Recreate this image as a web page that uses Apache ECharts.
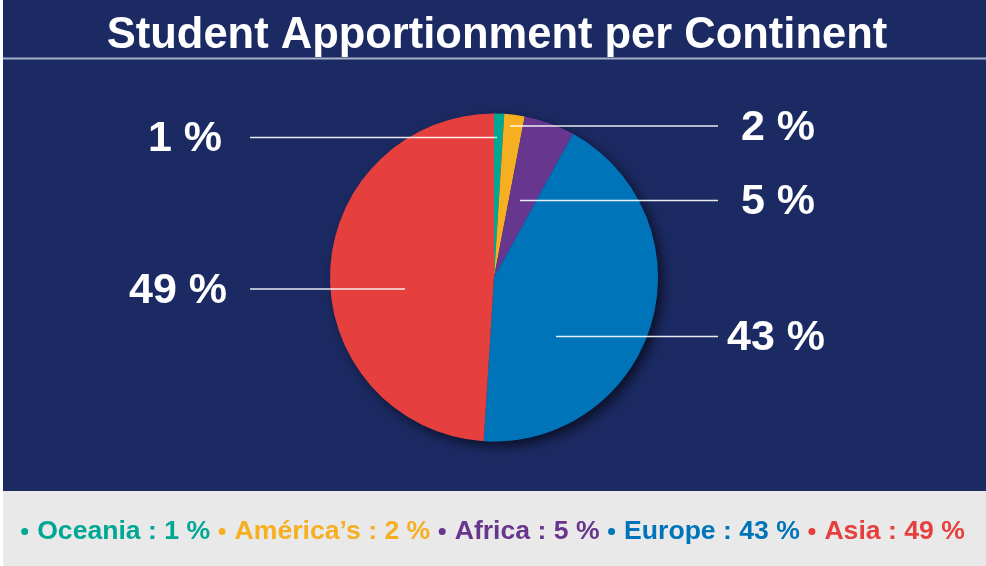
<!DOCTYPE html>
<html>
<head>
<meta charset="utf-8">
<script src="https://cdn.jsdelivr.net/npm/echarts@6/dist/echarts.min.js"></script>
<style>
  html, body { margin: 0; padding: 0; background: #ffffff; }
  #chart { width: 986px; height: 566px; }
</style>
</head>
<body>
<div id="chart"></div>
<script>
// Share of students by continent (percent)
const continents = ['Oceania', 'América’s', 'Africa', 'Europe', 'Asia'];
const shares = [1, 2, 5, 43, 49];

// Styling
const sliceColors = ['#00a794', '#f6af21', '#67368e', '#0074b9', '#e6403e'];
const navy = '#1c2a63';
const panelGrey = '#e9e9e9';
const FONT = '"Liberation Sans", Arial, Helvetica, sans-serif';

// Callout placement: label anchor and where each leader line starts inside its slice
const leftLineX = 250;
const rightLineX = 718;
const labelSpots = [
  { side: 'left',  textX: 222, y: 137.5, fromX: 497 },
  { side: 'right', textX: 741, y: 126,   fromX: 510 },
  { side: 'right', textX: 741, y: 200.5, fromX: 520 },
  { side: 'right', textX: 727, y: 336.5, fromX: 556 },
  { side: 'left',  textX: 227, y: 289,   fromX: 405 }
];
const labelLift = 2; // text sits a touch below its leader line

const pieCenter = [494, 277.5];
const pieRadius = 164;
const total = shares.reduce((a, b) => a + b, 0);

const sliceData = continents.map((name, i) => ({
  name: name,
  value: shares[i],
  itemStyle: { color: sliceColors[i] }
}));

const chart = echarts.init(document.getElementById('chart'), null, { renderer: 'canvas' });

chart.setOption({
  animation: false,
  backgroundColor: '#ffffff',
  graphic: [
    { type: 'rect', z: -10, silent: true,
      shape: { x: 3, y: 0, width: 983, height: 491 }, style: { fill: navy } },
    { type: 'rect', z: -10, silent: true,
      shape: { x: 3, y: 491, width: 983, height: 75 }, style: { fill: panelGrey } },
    { type: 'line', z: -9, silent: true,
      shape: { x1: 3, y1: 58.5, x2: 986, y2: 58.5 },
      style: { stroke: '#a9b1cc', lineWidth: 2 } }
  ],
  title: {
    text: 'Student Apportionment per Continent',
    left: 492,
    textAlign: 'center',
    top: 9,
    textStyle: {
      color: '#ffffff',
      fontFamily: FONT,
      fontWeight: 'bold',
      fontSize: 43.5,
      lineHeight: 44
    }
  },
  legend: {
    data: continents.map((name, i) => ({
      name: name,
      textStyle: { color: sliceColors[i] }
    })),
    left: 'center',
    top: 513,
    icon: 'circle',
    itemWidth: 7,
    itemHeight: 7,
    itemGap: 8.5,
    selectedMode: false,
    formatter: name => name + ' : ' + shares[continents.indexOf(name)] + ' %',
    textStyle: {
      fontFamily: FONT,
      fontWeight: 'bold',
      fontSize: 26.6,
      padding: [0, 0, 0, 4]
    }
  },
  series: [
    {
      // backdrop disc that carries the drop shadow under the whole pie
      type: 'pie',
      name: 'backdrop',
      silent: true,
      z: 1,
      center: pieCenter,
      radius: pieRadius,
      label: { show: false },
      labelLine: { show: false },
      itemStyle: {
        color: navy,
        shadowBlur: 12,
        shadowOffsetX: 5,
        shadowOffsetY: 5,
        shadowColor: 'rgba(0, 0, 0, 0.6)'
      },
      data: [{ name: 'all', value: total }]
    },
    {
      type: 'pie',
      name: 'Students',
      silent: true,
      z: 2,
      center: pieCenter,
      radius: pieRadius,
      startAngle: 90,
      clockwise: true,
      data: sliceData,
      itemStyle: { borderWidth: 0 },
      label: { show: false },
      labelLine: { show: false }
    },
    {
      // same slices again, see-through, only to carry the callouts above the pie
      type: 'pie',
      name: 'Callouts',
      silent: true,
      z: 3,
      center: pieCenter,
      radius: pieRadius,
      startAngle: 90,
      clockwise: true,
      data: continents.map((name, i) => ({ name: name, value: shares[i] })),
      itemStyle: { color: 'rgba(0,0,0,0)', borderWidth: 0 },
      label: {
        show: true,
        position: 'outside',
        formatter: '{c} %',
        color: '#ffffff',
        fontFamily: FONT,
        fontWeight: 'bold',
        fontSize: 43
      },
      labelLine: {
        show: true,
        lineStyle: { color: 'rgba(255,255,255,0.9)', width: 1.5 }
      },
      labelLayout: function (p) {
        const s = labelSpots[p.dataIndex];
        const endX = s.side === 'left' ? leftLineX : rightLineX;
        return {
          x: s.textX,
          y: s.y + labelLift,
          align: s.side === 'left' ? 'right' : 'left',
          verticalAlign: 'middle',
          labelLinePoints: [[s.fromX, s.y], [(s.fromX + endX) / 2, s.y], [endX, s.y]]
        };
      }
    }
  ]
});
</script>
</body>
</html>
